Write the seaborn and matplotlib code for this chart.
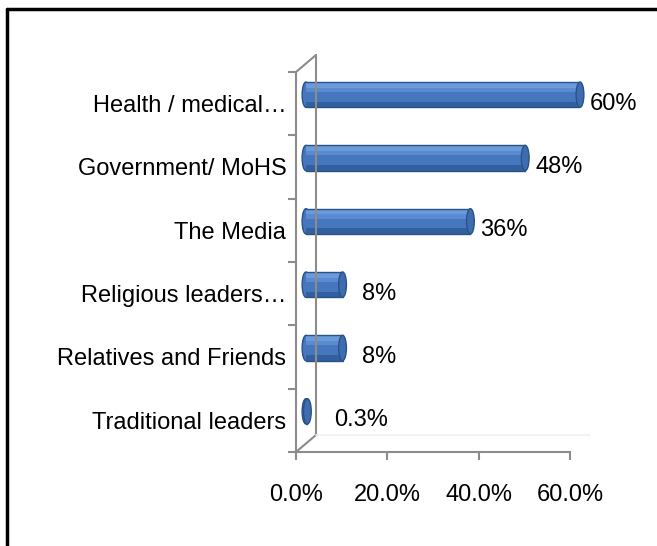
import matplotlib
matplotlib.use("Agg")
import matplotlib.pyplot as plt
import seaborn as sns
import pandas as pd
from matplotlib.lines import Line2D
from matplotlib.patches import Ellipse

categories = ["Health / medical\u2026", "Government/ MoHS", "The Media",
              "Religious leaders\u2026", "Relatives and Friends", "Traditional leaders"]
values = [60, 48, 36, 8, 8, 0.3]
value_labels = ["60%", "48%", "36%", "8%", "8%", "0.3%"]
xticks = [0, 20, 40, 60]
xtick_labels = ["0.0%", "20.0%", "40.0%", "60.0%"]

df = pd.DataFrame({"cat": categories, "val": values})

sns.set_theme(style="white")
plt.rcParams["font.family"] = ["Liberation Sans", "DejaVu Sans"]

W, H = 657, 546
fig = plt.figure(figsize=(W / 100, H / 100), dpi=100)
fig.patch.set_facecolor("white")

gray = "#8C8C8C"
fs = 17

# frame axes (front)
x0, x1, y0, y1 = 296, 570, 72, 452
fr = fig.add_axes([x0 / W, 1 - y1 / H, (x1 - x0) / W, (y1 - y0) / H])
fr.set_xlim(0, 60)
fr.set_ylim(len(categories) - 0.5, -0.5)
fr.patch.set_alpha(0)
for s in ["top", "right"]:
    fr.spines[s].set_visible(False)
for s in ["left", "bottom"]:
    fr.spines[s].set_color(gray)
    fr.spines[s].set_linewidth(1.5)
fr.set_xticks(xticks)
fr.set_xticklabels(xtick_labels, fontsize=fs, color="black")
fr.set_yticks([i - 0.5 for i in range(len(categories) + 1)], minor=False)
fr.set_yticklabels([])
fr.set_yticks(range(len(categories)), minor=True)
fr.set_yticklabels(categories, minor=True, fontsize=fs, color="black")
fr.tick_params(axis="y", which="major", direction="out", length=6, width=1.5, color=gray, left=True)
fr.tick_params(axis="y", which="minor", length=0, pad=7)
fr.tick_params(axis="x", direction="out", length=6, width=1.5, color=gray, bottom=True, pad=17)

# back wall lines (3D look)
dx, dy = 20, 17
def fx(px):
    return px / W
def fy(py):
    return 1 - py / H
for (xa, ya, xb, yb) in [(x0, y0, x0 + dx, y0 - dy), (x0, y1, x0 + dx, y1 - dy),
                         (x0 + dx, y0 - dy, x0 + dx, y1 - dy)]:
    fig.add_artist(Line2D([fx(xa), fx(xb)], [fy(ya), fy(yb)], color=gray, lw=1.5))
fig.add_artist(Line2D([fx(x0 + dx), fx(x1 + dx)], [fy(y1 - dy), fy(y1 - dy)], color="#F0F0F0", lw=1.2))

# bar axes (shifted to mid-depth)
ox, oy = 10, 9
ax = fig.add_axes([(x0 + ox) / W, 1 - (y1 - oy) / H, (x1 - x0) / W, (y1 - y0) / H])
sns.barplot(data=df, x="val", y="cat", orient="h", ax=ax, color="#4677BE",
            width=0.40, edgecolor="none", linewidth=0, saturation=1)
ax.set_xlim(0, 60)
ax.set_ylim(len(categories) - 0.5, -0.5)
cap_w = 1.7  # data units for end-cap ellipse width
for p in list(ax.patches):
    p.set_zorder(2)
    yb = p.get_y()
    h = p.get_height()
    w = p.get_width()
    # shading bands (cylinder look)
    ax.barh(yb, w, height=h * 0.22, left=0, align="edge", color="#6B9BDB", linewidth=0, zorder=2)
    ax.barh(yb + h * 0.22, w, height=h * 0.18, left=0, align="edge", color="#5A8AD0", linewidth=0, zorder=2)
    ax.barh(yb + h * 0.78, w, height=h * 0.22, left=0, align="edge", color="#32609F", linewidth=0, zorder=2)
    # outline
    ax.plot([0, w], [yb, yb], color="#2A5288", lw=1.0, zorder=3)
    ax.plot([0, w], [yb + h, yb + h], color="#2A5288", lw=1.0, zorder=3)
    # left cap (only outer half shows)
    ax.add_patch(Ellipse((0, yb + h / 2), cap_w, h, facecolor="#4677BE",
                         edgecolor="#2A5288", lw=1.0, zorder=1, clip_on=False))
    # right cap
    ax.add_patch(Ellipse((w, yb + h / 2), cap_w, h, facecolor="#3E6DAF",
                         edgecolor="#2A5288", lw=1.0, zorder=4, clip_on=False))
ax.axis("off")
ax.patch.set_alpha(0)

# value labels
for i, (v, lab) in enumerate(zip(values, value_labels)):
    fr.text(v + 4.4 if v > 20 else v + 6.5 if v > 1 else v + 8, i, lab,
            ha="left", va="center", fontsize=fs, color="black")

# outer border (left & top)
fig.add_artist(Line2D([fx(7), fx(7)], [fy(9), 0], color="black", lw=2.5))
fig.add_artist(Line2D([fx(7), 1], [fy(9), fy(9)], color="black", lw=2.5))

fig.savefig("out.png", dpi=100)
